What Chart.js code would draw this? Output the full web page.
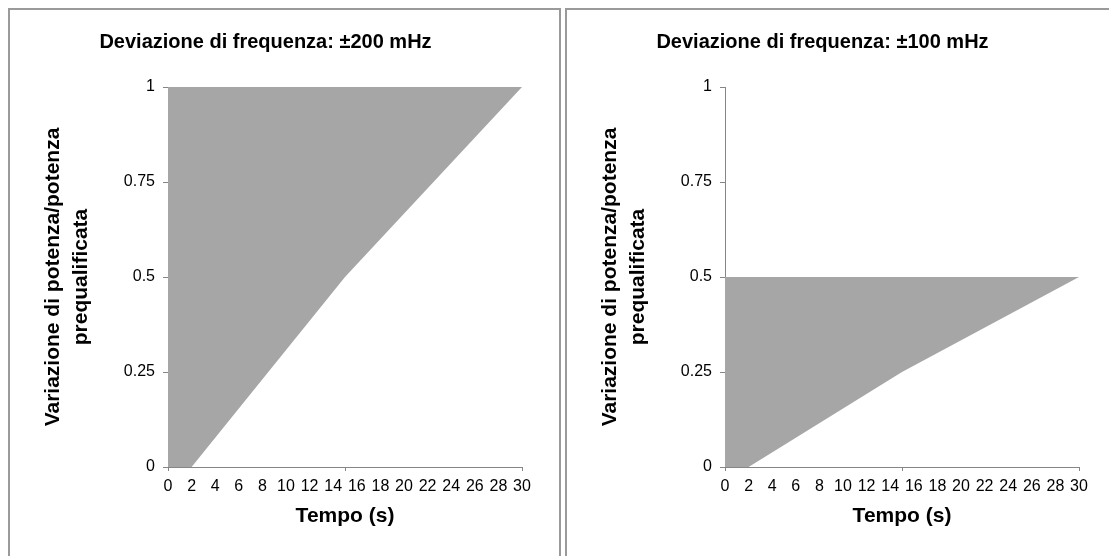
<!DOCTYPE html>
<html>
<head>
<meta charset="utf-8">
<script src="https://cdn.jsdelivr.net/npm/chart.js@4.4.1/dist/chart.umd.min.js"></script>
<style>
  body { margin: 0; background: #fff; width: 1109px; height: 556px; overflow: hidden; position: relative; }
  .panel { position: absolute; top: 8px; width: 553px; height: 600px; box-sizing: border-box; border: 2px solid #9a9a9a; }
  canvas { position: absolute; top: 9px; }
</style>
</head>
<body>
<div class="panel" style="left:8px"></div>
<div class="panel" style="left:565px"></div>
<canvas id="chart200" width="552" height="547" style="left:9px"></canvas>
<canvas id="chart100" width="552" height="547" style="left:566px"></canvas>
<script>
const timeSec = [0, 2, 15, 30];
const lower200 = [0, 0, 0.5, 1];
const upper200 = [1, 1, 1, 1];
const lower100 = [0, 0, 0.25, 0.5];
const upper100 = [0.5, 0.5, 0.5, 0.5];
const xTickLabels = [0, 2, 4, 6, 8, 10, 12, 14, 16, 18, 20, 22, 24, 26, 28, 30];
const xTickMarks = [0, 15, 30];
const yTicks = [0, 0.25, 0.5, 0.75, 1];

const axisGray = '#868686';
const fillGray = '#a6a6a6';
const fontFamily = "'Liberation Sans', Arial, sans-serif";

function points(ys) {
  return timeSec.map((t, i) => ({ x: t, y: ys[i] }));
}

function makeChart(id, title, lower, upper) {
  new Chart(document.getElementById(id), {
    type: 'line',
    data: {
      datasets: [
        { data: points(lower), borderWidth: 0, borderColor: 'transparent', pointRadius: 0, fill: false },
        { data: points(upper), borderWidth: 0, borderColor: 'transparent', pointRadius: 0,
          fill: '-1', backgroundColor: fillGray }
      ]
    },
    options: {
      responsive: false,
      animation: false,
      layout: { padding: { left: 0, right: 39, top: 0, bottom: 28 } },
      plugins: {
        legend: { display: false },
        tooltip: { enabled: false },
        title: {
          display: true,
          text: title,
          color: '#000',
          font: { family: fontFamily, size: 20, weight: 'bold', lineHeight: '24px' },
          padding: { top: 21, bottom: 33 }
        }
      },
      scales: {
        x: {
          type: 'linear',
          min: 0,
          max: 30,
          afterBuildTicks: s => {
            const vals = [...new Set([...xTickLabels, ...xTickMarks])].sort((a, b) => a - b);
            s.ticks = vals.map(v => ({ value: v }));
          },
          afterFit: s => { s.height = 61; },
          grid: {
            drawOnChartArea: false,
            tickLength: 4,
            tickColor: ctx => (ctx.tick && xTickMarks.includes(ctx.tick.value)) ? axisGray : 'rgba(0,0,0,0)'
          },
          border: { display: true, color: axisGray },
          ticks: {
            autoSkip: false,
            maxRotation: 0,
            minRotation: 0,
            padding: 6,
            color: '#000',
            font: { family: fontFamily, size: 16, lineHeight: 1.2 },
            callback: v => xTickLabels.includes(v) ? String(v) : ''
          },
          title: {
            display: true,
            text: 'Tempo (s)',
            color: '#000',
            font: { family: fontFamily, size: 21, weight: 'bold', lineHeight: '24px' },
            padding: { top: 0, bottom: 0 }
          }
        },
        y: {
          min: 0,
          max: 1,
          afterBuildTicks: s => { s.ticks = yTicks.map(v => ({ value: v })); },
          afterFit: s => { s.width = 159; },
          grid: { drawOnChartArea: false, tickLength: 5, tickColor: axisGray },
          border: { display: true, color: axisGray },
          ticks: {
            padding: 8,
            color: '#000',
            font: { family: fontFamily, size: 16, lineHeight: 1.2 },
            callback: v => String(v)
          },
          title: {
            display: true,
            text: ['Variazione di potenza/potenza', 'prequalificata'],
            color: '#000',
            font: { family: fontFamily, size: 21, weight: 'bold', lineHeight: '28px' },
            padding: { top: 30, bottom: 0 }
          }
        }
      }
    }
  });
}

makeChart('chart200', 'Deviazione di frequenza: ±200 mHz', lower200, upper200);
makeChart('chart100', 'Deviazione di frequenza: ±100 mHz', lower100, upper100);
</script>
</body>
</html>
